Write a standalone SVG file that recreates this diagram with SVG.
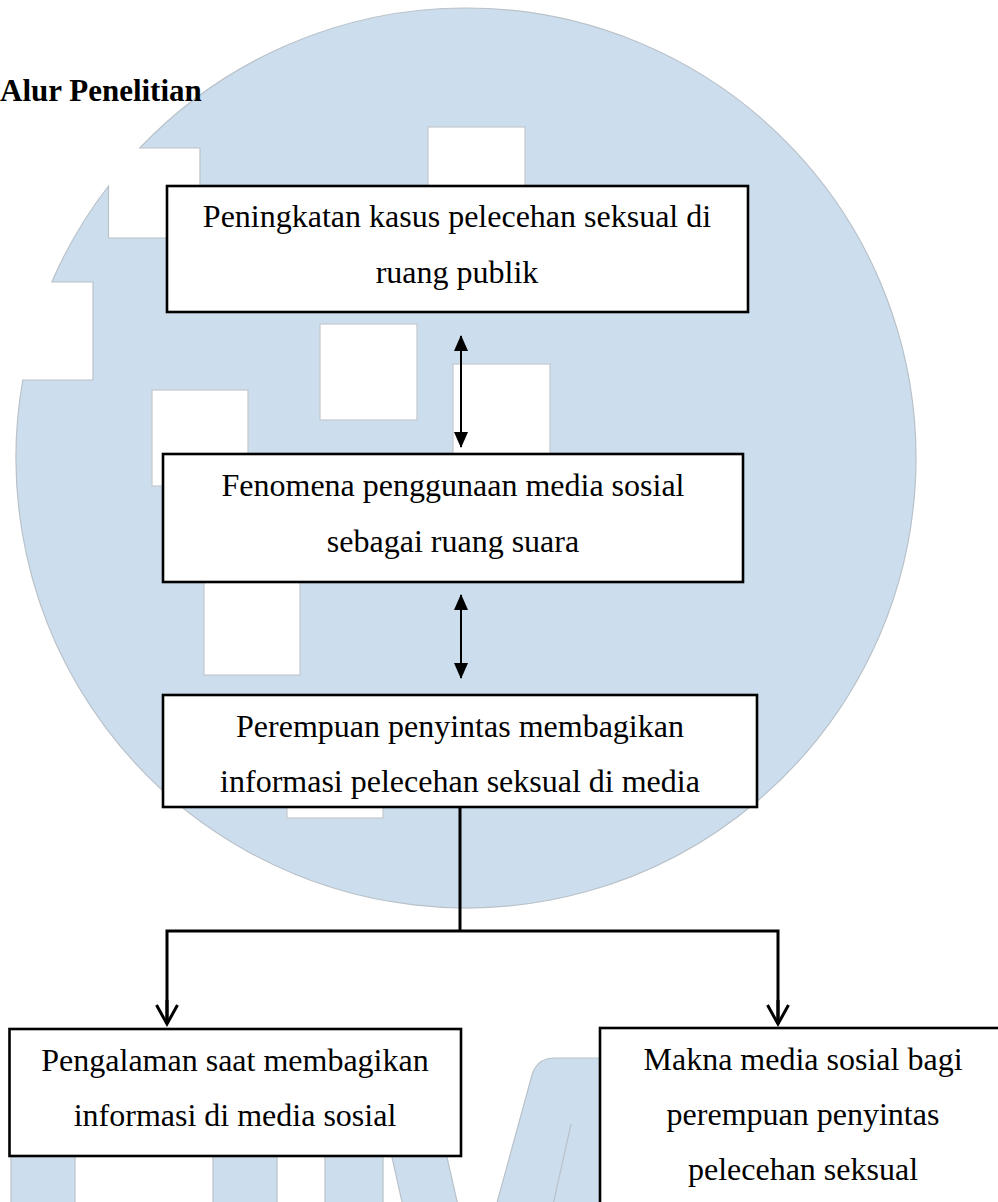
<svg xmlns="http://www.w3.org/2000/svg" width="998" height="1202" viewBox="0 0 998 1202">
<style>
.wm{fill:#ccdeee;stroke:#b9c1c9;stroke-width:1.2}
.hole{fill:#ffffff;stroke:#c3c8cd;stroke-width:1.2}
.box{fill:#ffffff;stroke:#000000;stroke-width:2.6}
.t{font-family:"Liberation Serif","Times New Roman",serif;font-size:32px;fill:#000000;text-anchor:middle}
.title{font-family:"Liberation Serif","Times New Roman",serif;font-size:31px;font-weight:bold;fill:#000000}
.thin{fill:none;stroke:#000000;stroke-width:2}
.thick{fill:none;stroke:#000000;stroke-width:3}
</style>
<defs>
<marker id="tri" viewBox="0 0 16 14" refX="15" refY="7" markerWidth="16" markerHeight="14" markerUnits="userSpaceOnUse" orient="auto-start-reverse">
<path d="M0,0 L16,7 L0,14 Z" fill="#000000"/>
</marker>
<marker id="chev" viewBox="-2 -2 24 26" refX="19" refY="10.5" markerWidth="24" markerHeight="26" markerUnits="userSpaceOnUse" orient="auto" overflow="visible">
<path d="M0,0 L19,10.5 L0,21" fill="none" stroke="#000000" stroke-width="3"/>
</marker>
</defs>

<g id="watermark">
<path class="wm" d="M466 8 A450 450 0 1 1 22.8 380 L93 380 L93 282 L51.8 282 A450 450 0 0 1 108.5 186 L108.5 238 L200 238 L200 148 L139.8 148 A450 450 0 0 1 466 8 Z"/>
<rect class="hole" x="428" y="127" width="97" height="96"/>
<rect class="hole" x="320" y="324" width="97" height="96"/>
<rect class="hole" x="453" y="364" width="97" height="96"/>
<rect class="hole" x="152" y="390" width="96" height="96"/>
<rect class="hole" x="204" y="579" width="96" height="96"/>
<rect class="hole" x="287" y="722" width="96" height="96"/>
<rect class="wm" x="11" y="1150" width="64" height="60"/>
<rect class="wm" x="213" y="1150" width="64" height="60"/>
<rect class="wm" x="325" y="1150" width="58" height="60"/>
<polygon class="wm" points="390.4,1150 445.4,1150 459,1210 403.8,1210"/>
<path class="wm" d="M495 1210 L532 1075 Q537 1058 555 1058 L610 1058 L610 1210 Z"/>
<line x1="571" y1="1124" x2="553" y2="1205" stroke="#b9c1c9" stroke-width="1.2"/>
</g>

<text class="title" x="0" y="101">Alur Penelitian</text>

<g id="node1">
<rect class="box" x="167" y="186" width="581" height="126"/>
<text class="t" x="457" y="227">Peningkatan kasus pelecehan seksual di</text>
<text class="t" x="457" y="283">ruang publik</text>
</g>

<g id="node2">
<rect class="box" x="163" y="454" width="580" height="128"/>
<text class="t" x="453" y="496">Fenomena penggunaan media sosial</text>
<text class="t" x="453" y="552">sebagai ruang suara</text>
</g>

<g id="node3">
<rect class="box" x="163" y="695" width="594" height="112"/>
<text class="t" x="460" y="737">Perempuan penyintas membagikan</text>
<text class="t" x="460" y="792">informasi pelecehan seksual di media</text>
</g>

<g id="node4">
<rect class="box" x="9.5" y="1029" width="451.5" height="127"/>
<text class="t" x="235" y="1071">Pengalaman saat membagikan</text>
<text class="t" x="235" y="1126">informasi di media sosial</text>
</g>

<g id="node5">
<rect class="box" x="600" y="1028" width="420" height="200"/>
<text class="t" x="803" y="1070">Makna media sosial bagi</text>
<text class="t" x="803" y="1125">perempuan penyintas</text>
<text class="t" x="803" y="1180">pelecehan seksual</text>
</g>

<g id="connectors">
<line class="thin" x1="461" y1="336" x2="461" y2="447" marker-start="url(#tri)" marker-end="url(#tri)"/>
<line class="thin" x1="461" y1="595" x2="461" y2="678" marker-start="url(#tri)" marker-end="url(#tri)"/>
<line class="thick" x1="460" y1="807" x2="460" y2="931"/>
<polyline class="thick" points="167,1023 167,931 778,931 778,1023"/>
<line class="thick" x1="167" y1="1000" x2="167" y2="1024" marker-end="url(#chev)"/>
<line class="thick" x1="778" y1="1000" x2="778" y2="1024" marker-end="url(#chev)"/>
</g>
</svg>
